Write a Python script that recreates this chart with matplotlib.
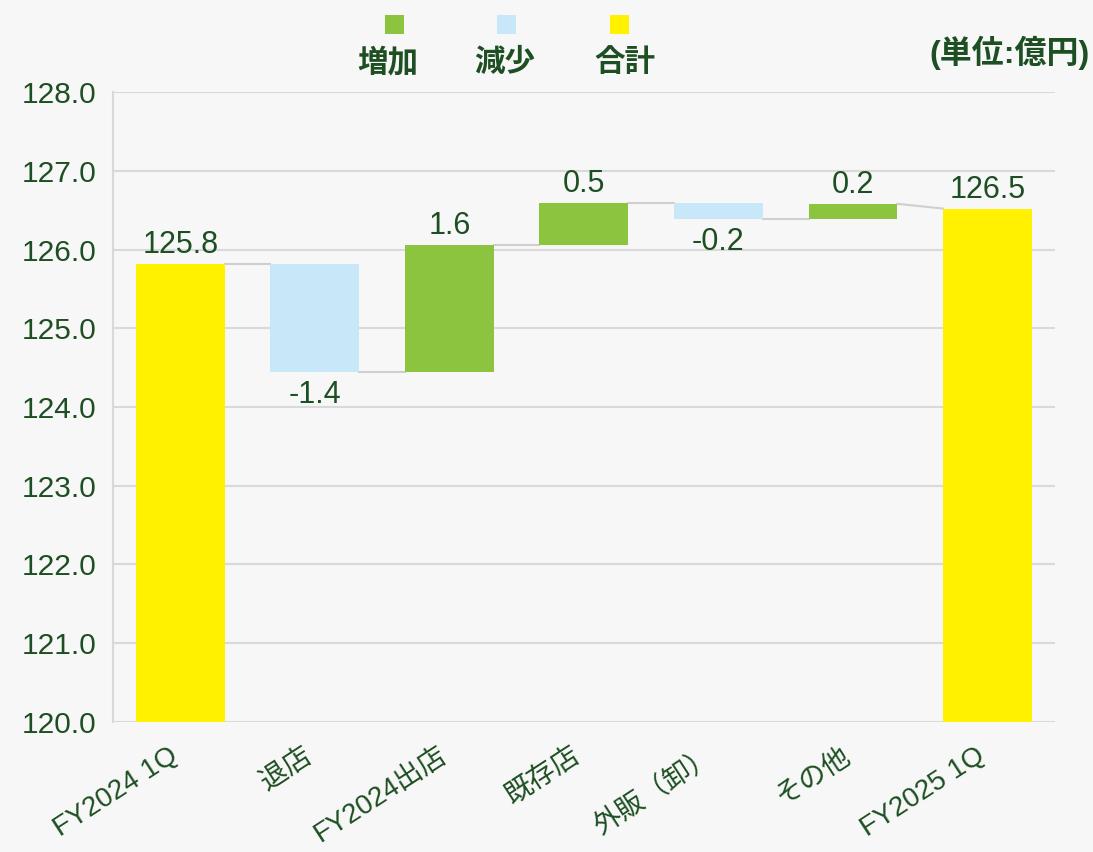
import numpy as np
import matplotlib.pyplot as plt
from matplotlib.patches import Rectangle
from matplotlib.transforms import ScaledTranslation

plt.rcParams['font.family'] = ['Liberation Sans', 'Noto Sans CJK JP', 'DejaVu Sans']

# data (億円)
categories = ['FY2024 1Q', '退店', 'FY2024出店', '既存店', '外販（卸）', 'その他', 'FY2025 1Q']
start_total = 125.82
deltas = [-1.38, 1.62, 0.53, -0.20, 0.19]
end_total = 126.52
labels = ['125.8', '-1.4', '1.6', '0.5', '-0.2', '0.2', '126.5']

c_up = '#8dc43f'
c_down = '#c8e7f9'
c_total = '#fff100'
c_text = '#1d4f22'
c_grid = '#d9d9d9'
bg = '#f7f7f7'

fig = plt.figure(figsize=(10.93, 8.52), dpi=100, facecolor=bg)
ax = fig.add_axes([0.1034, 0.1526, 0.8616, 0.7394], facecolor=bg)

base = 120.0
width = 0.66
x = np.arange(len(categories))
vfs = 22

# totals
ax.bar(x[0], start_total - base, bottom=base, width=width, color=c_total, zorder=3)
ax.bar(x[-1], end_total - base, bottom=base, width=width, color=c_total, zorder=3)

# floating bars
level = start_total
ends = [start_total]
for i, d in enumerate(deltas):
    xi = x[i + 1]
    ax.bar(xi, abs(d), bottom=min(level, level + d), width=width,
           color=c_up if d > 0 else c_down, zorder=3)
    level += d
    ends.append(level)

# connectors
for i in range(len(ends)):
    y0 = ends[i]
    y1 = ends[i] if i + 1 < len(ends) else end_total
    ax.plot([x[i] + width / 2, x[i + 1] - width / 2], [y0, y1],
            color='#cfcfcf', lw=1.5, zorder=2)

# value labels
ax.text(x[0], start_total + 0.05, labels[0], ha='center', va='bottom', fontsize=vfs, color=c_text, zorder=4)
ax.text(x[-1], end_total + 0.05, labels[-1], ha='center', va='bottom', fontsize=vfs, color=c_text, zorder=4)
level = start_total
for i, d in enumerate(deltas):
    top = max(level, level + d)
    bot = min(level, level + d)
    if d > 0:
        ax.text(x[i + 1], top + 0.05, labels[i + 1], ha='center', va='bottom', fontsize=vfs, color=c_text, zorder=4)
    else:
        ax.text(x[i + 1], bot - 0.1, labels[i + 1], ha='center', va='top', fontsize=vfs, color=c_text, zorder=4)
    level += d

ax.set_xlim(-0.5, 6.5)
ax.set_ylim(120, 128)
yt = np.arange(120, 128.5, 1.0)
ax.set_yticks(yt)
ax.set_yticklabels([f'{v:.1f}' for v in yt], fontsize=21.5, color=c_text)
ax.yaxis.grid(True, color=c_grid, lw=1.5, zorder=0)
ax.set_axisbelow(True)
ax.tick_params(axis='y', length=0, pad=12)
ax.tick_params(axis='x', length=0, pad=15)
ax.set_xticks(x)
ax.set_xticklabels(categories, rotation=33, ha='right', rotation_mode='anchor',
                   fontsize=20, color=c_text)
shift = ScaledTranslation(-12 / 100, 0, fig.dpi_scale_trans)
for lbl in ax.get_xticklabels():
    lbl.set_transform(lbl.get_transform() + shift)
for s in ['top', 'right', 'bottom']:
    ax.spines[s].set_visible(False)
ax.spines['left'].set_color(c_grid)
ax.spines['left'].set_linewidth(1.5)

# legend: square above text
leg_items = [('増加', c_up, 394, 388), ('減少', c_down, 506, 505), ('合計', c_total, 619, 625)]
for name, col, sx, tx in leg_items:
    fig.patches.append(Rectangle(((sx - 9.5) / 1093, 1 - 34 / 852), 19 / 1093, 19 / 852,
                                 transform=fig.transFigure, facecolor=col, edgecolor='none'))
    fig.text(tx / 1093, 1 - 63 / 852, name, ha='center', va='center', fontsize=22,
             fontweight='bold', color=c_text)

fig.text(0.997, 1 - 53 / 852, '(単位:億円)', ha='right', va='center', fontsize=23,
         fontweight='bold', color=c_text)

fig.savefig('out.png', dpi=100, facecolor=bg)
